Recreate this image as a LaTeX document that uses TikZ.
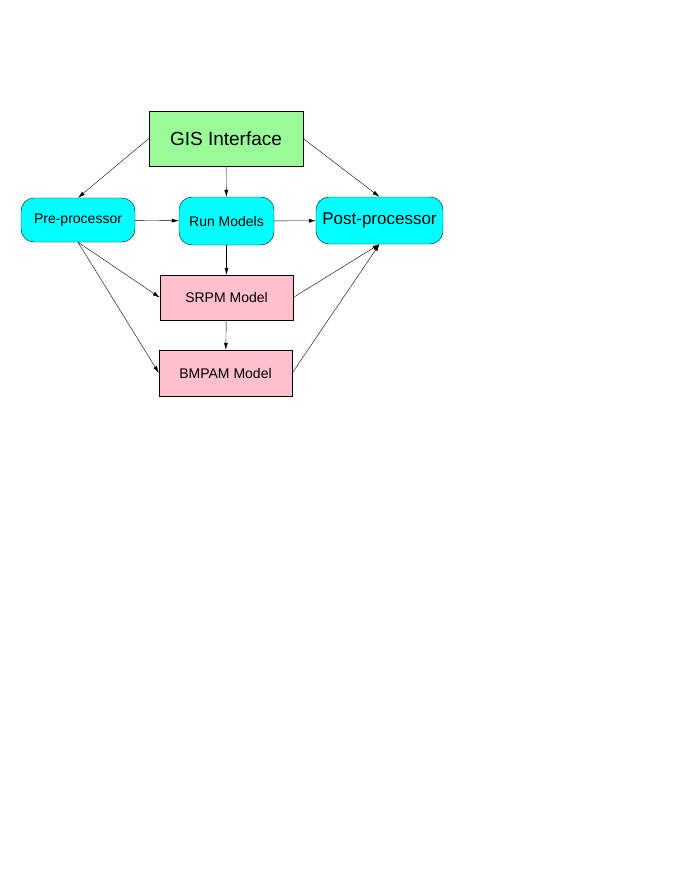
\documentclass[tikz,border=0pt]{standalone}
\usepackage{fontspec}
\setmainfont{Liberation Sans}
\usetikzlibrary{positioning,arrows.meta}
\definecolor{procfill}{RGB}{0,255,255}
\definecolor{gisfill}{RGB}{152,251,152}
\definecolor{modfill}{RGB}{255,192,203}

\begin{document}
\begin{tikzpicture}[x=1pt,y=-1pt,>={Latex[length=7pt,width=4pt]},
  box/.style={draw,minimum width=133pt,minimum height=45pt,fill=modfill},
  proc/.style={draw,fill=procfill,rounded corners=13pt,minimum height=44pt},
  every node/.style={font=\fontsize{14}{16}\selectfont}]
\useasboundingbox (0,0) rectangle (680,880);

\node[draw,fill=gisfill,minimum width=154pt,minimum height=55pt,
      font=\fontsize{19}{22}\selectfont] (gis) at (226,138.5) {GIS Interface};
\node[proc,minimum width=114pt] (pre) at (78,220) {Pre-processor};
\node[proc,minimum width=95pt,minimum height=48pt] (run) at (226.5,221) {Run Models};
\node[proc,minimum width=127pt,minimum height=47pt,
      font=\fontsize{17}{20}\selectfont] (post) at (379.5,220.5) {Post-processor};
\node[box] (srpm) at (226.5,297.5) {SRPM Model};
\node[box,minimum height=46pt] (bmpam) at (225.5,373) {BMPAM Model};

\draw[->] (gis.west) -- (pre.north);
\draw[->] (gis) -- (run);
\draw[->] (gis.east) -- (post.north);
\draw[->] (pre) -- (run);
\draw[->] (run) -- (post);
\draw[->] (run) -- (srpm);
\draw[->] (srpm) -- (bmpam);
\draw[->] (pre.south) -- (srpm.west);
\draw[->] (pre.south) -- (bmpam.west);
\draw[->] (srpm.east) -- (post.south);
\draw[->] (bmpam.east) -- (post.south);
\end{tikzpicture}
\end{document}
